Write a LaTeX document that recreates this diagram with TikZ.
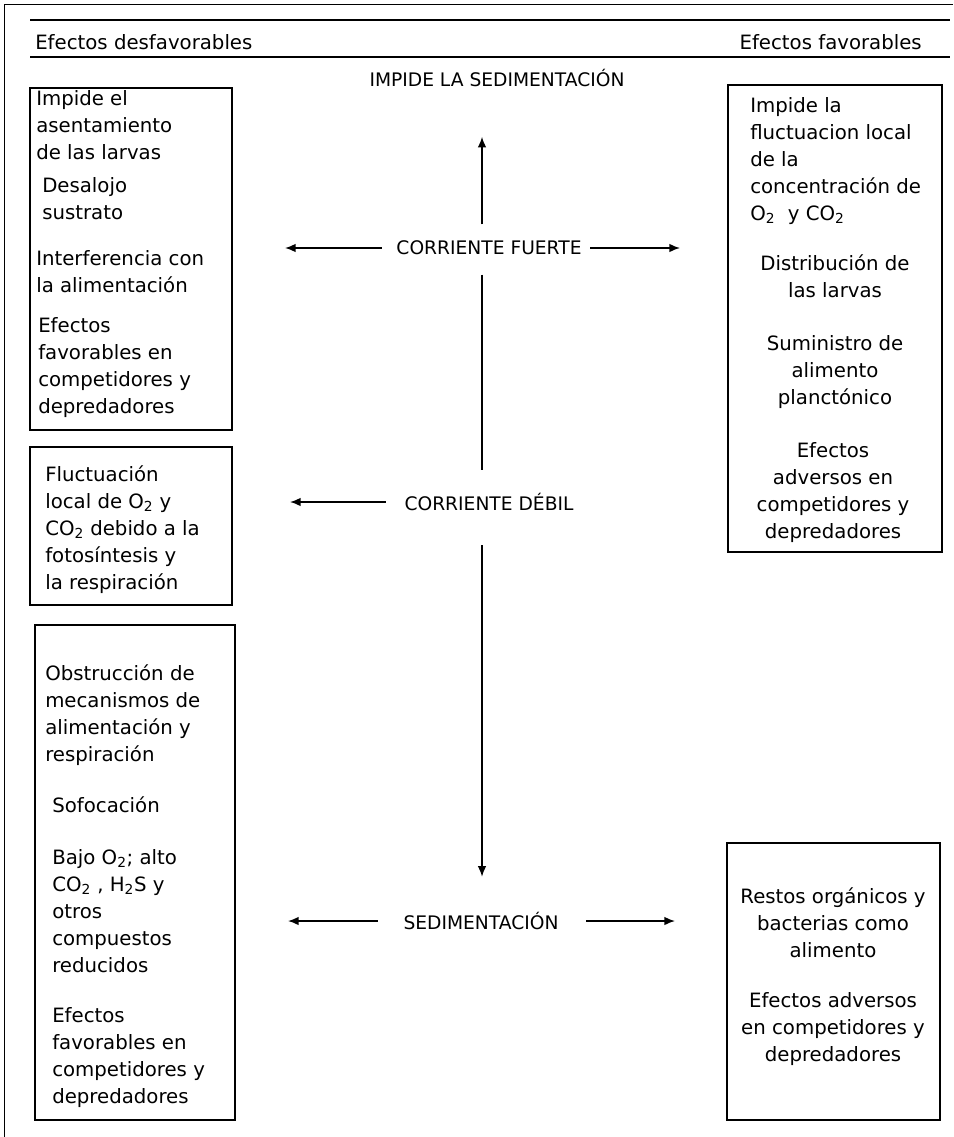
\documentclass[tikz,border=0pt]{standalone}
\usepackage{fontspec}
\setmainfont{DejaVu Sans}
\usepackage{tikz}
\usetikzlibrary{arrows.meta, positioning, fit}

\begin{document}
\begin{tikzpicture}[x=0.75pt, y=-0.75pt,
  every node/.style={font=\fontsize{14.8}{20.25}\selectfont, inner sep=0pt},
  rotulo/.style={font=\fontsize{14}{20.25}\selectfont},
  caja/.style={draw, line width=1.4pt, inner sep=0pt},
  txt/.style={anchor=north west, align=left},
  txtc/.style={anchor=north, align=center},
  flecha/.style={-{Latex[length=8pt,width=6.5pt]}, line width=1.2pt},
  linea/.style={line width=1.2pt}]
  \useasboundingbox (0,0) rectangle (953,1137);

  % marco y cabecera
  \draw[thin] (4,1137) -- (4,4) -- (953,4);
  \draw[line width=2.2pt] (30,20) -- (950,20);
  \draw[line width=1.3pt] (30,57) -- (950,57);
  \node[anchor=west] (desfav) at (35,42) {Efectos desfavorables};
  \node[anchor=east] (fav) at (922,42) {Efectos favorables};

  % cajas
  \node[caja, fit={(30,88) (232,430)}] (izq1) {};
  \node[caja, fit={(30,447) (232,605)}] (izq2) {};
  \node[caja, fit={(35,625) (235,1120)}] (izq3) {};
  \node[caja, fit={(728,85) (942,552)}] (der1) {};
  \node[caja, fit={(727,843) (940,1120)}] (der2) {};

  % textos izquierda
  \node[txt] (izq1a) at (36,90) {Impide el\\asentamiento\\de las larvas};
  \node[txt] (izq1b) at (42,177) {Desalojo\\sustrato};
  \node[txt] (izq1c) at (36,250) {Interferencia con\\la alimentación};
  \node[txt] (izq1d) at (38,317) {Efectos\\favorables en\\competidores y\\depredadores};
  \node[txt] (izq2a) at (45,465) {Fluctuación\\local de O\textsubscript{2} y\\CO\textsubscript{2} debido a la\\fotosíntesis y\\la respiración};
  \node[txt] (izq3a) at (45,664) {Obstrucción de\\mecanismos de\\alimentación y\\respiración};
  \node[txt] (izq3b) at (52,796) {Sofocación};
  \node[txt] (izq3c) at (52,849) {Bajo O\textsubscript{2}; alto\\CO\textsubscript{2} , H\textsubscript{2}S y\\otros\\compuestos\\reducidos};
  \node[txt] (izq3d) at (52,1007) {Efectos\\favorables en\\competidores y\\depredadores};

  % textos derecha
  \node[txt] (der1a) at (750,97) {Impide la\\fluctuacion local\\de la\\concentración de\\O\textsubscript{2}\ \ y CO\textsubscript{2}};
  \node[txtc] (der1b) at (835,254) {Distribución de\\las larvas};
  \node[txtc] (der1c) at (835,335) {Suministro de\\alimento\\planctónico};
  \node[txtc] (der1d) at (833,442) {Efectos\\adversos en\\competidores y\\depredadores};
  \node[txtc] (der2a) at (833,887) {Restos orgánicos y\\bacterias como\\alimento};
  \node[txtc] (der2b) at (833,992) {Efectos adversos\\en competidores y\\depredadores};

  % eje central
  \coordinate (eje) at (482,0);
  \node[rotulo] (impide) at (497,78) {IMPIDE LA SEDIMENTACIÓN};
  \node[rotulo] (fuerte) at (489,248) {CORRIENTE FUERTE};
  \node[rotulo] (debil) at (489,502) {CORRIENTE DÉBIL};
  \node[rotulo] (sedim) at (481,921) {SEDIMENTACIÓN};

  \draw[flecha, shorten <=12.2pt, shorten >=37.3pt] (fuerte.north -| eje) -- (impide.south -| eje);
  \draw[linea, shorten <=14.4pt, shorten >=17.4pt] (fuerte.south -| eje) -- (debil.north -| eje);
  \draw[flecha, shorten <=25.7pt, shorten >=26.4pt] (debil.south -| eje) -- (sedim.north -| eje);

  % flechas laterales
  \coordinate (fuerteI) at (285,248);
  \coordinate (fuerteD) at (680,248);
  \coordinate (debilI) at (290,502);
  \coordinate (sedimI) at (288,921);
  \coordinate (sedimD) at (675,921);
  \draw[flecha, shorten <=11pt] (fuerte.west) -- (fuerteI);
  \draw[flecha, shorten <=6.5pt] (fuerte.east) -- (fuerteD);
  \draw[flecha, shorten <=14pt] (debil.west) -- (debilI);
  \draw[flecha, shorten <=19pt] (sedim.west) -- (sedimI);
  \draw[flecha, shorten <=20.5pt] (sedim.east) -- (sedimD);
\end{tikzpicture}
\end{document}
